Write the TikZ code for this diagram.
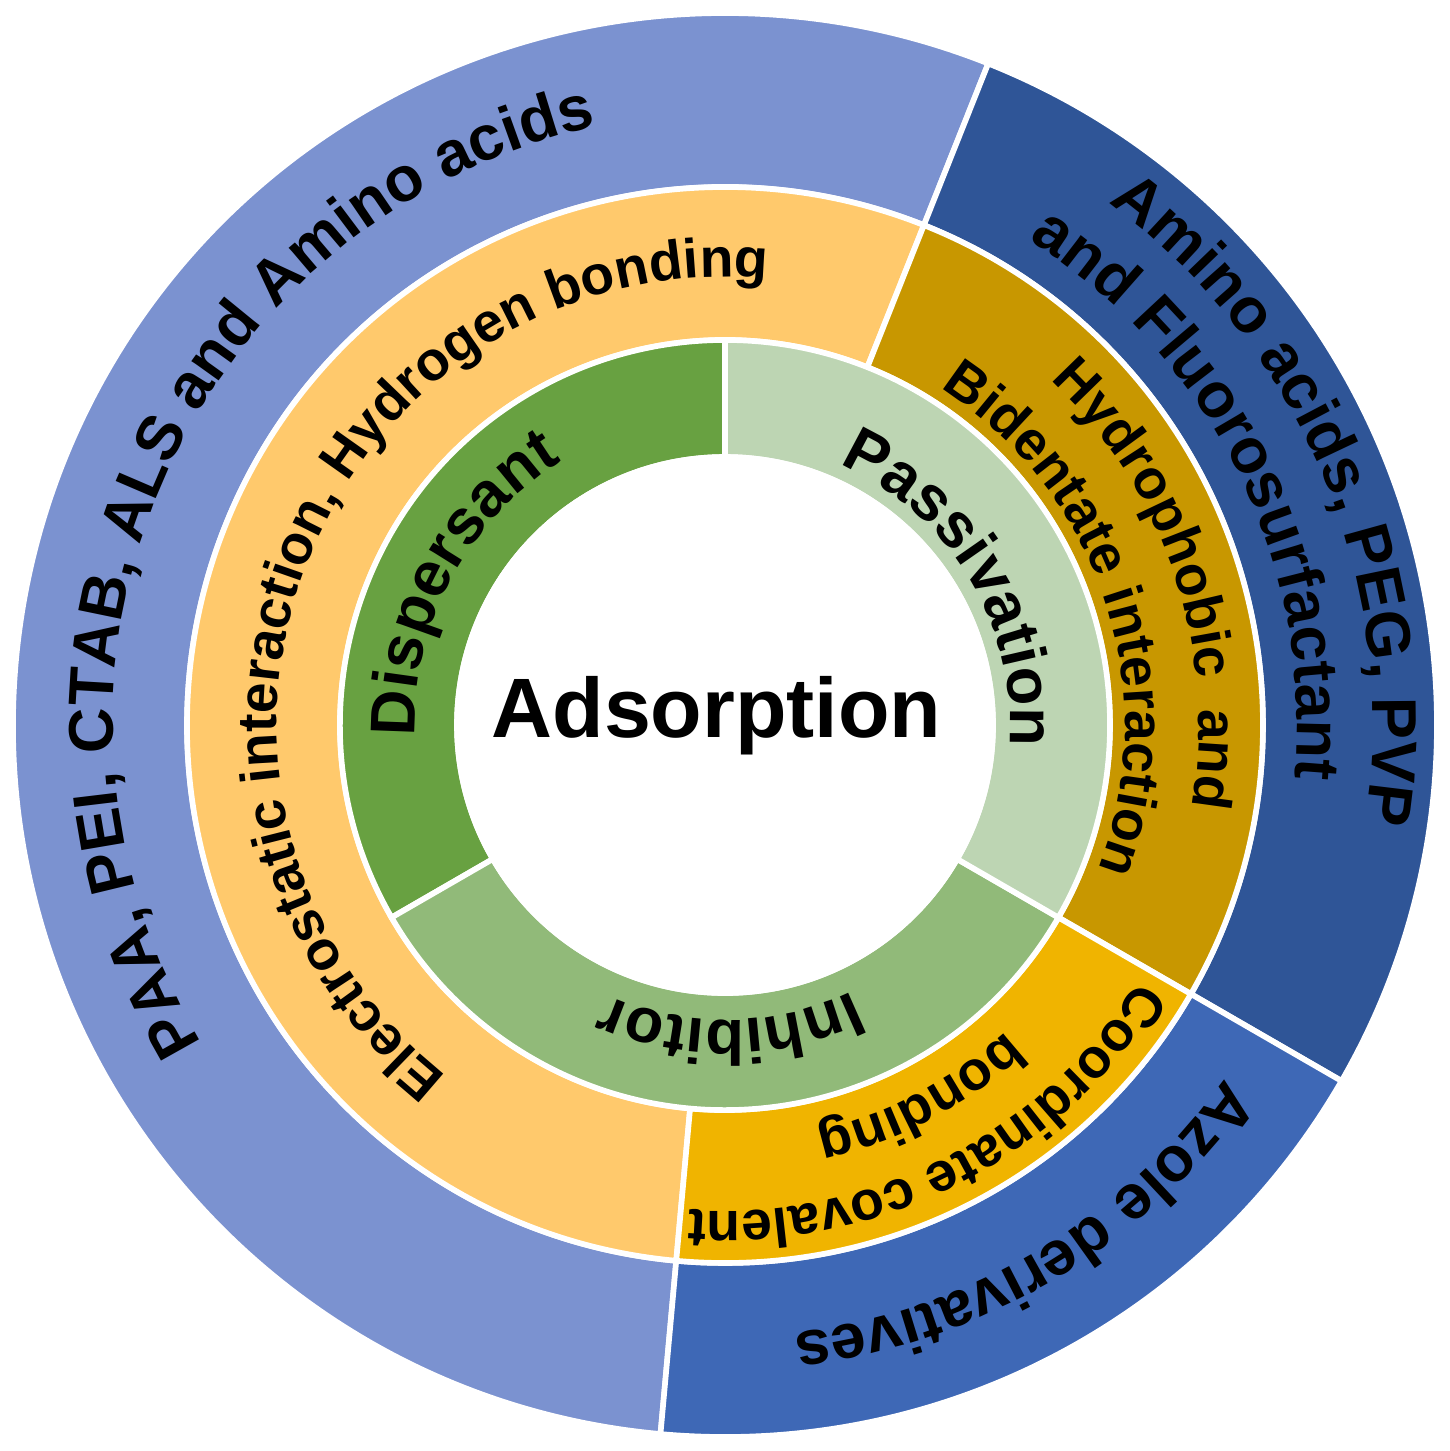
\documentclass[tikz,border=0pt]{standalone}
\usepackage{fontspec}
\setmainfont{Liberation Sans}
\usetikzlibrary{decorations.text}

\definecolor{paablue}{HTML}{7B92D0}
\definecolor{pegblue}{HTML}{2F5597}
\definecolor{azoleblue}{HTML}{3E68B6}
\definecolor{electroorange}{HTML}{FFC96C}
\definecolor{hydrogold}{HTML}{C89700}
\definecolor{coordgold}{HTML}{F0B400}
\definecolor{dispgreen}{HTML}{68A141}
\definecolor{passgreen}{HTML}{BDD5B3}
\definecolor{inhibgreen}{HTML}{91BA79}

\newcommand{\outerfont}{\bfseries\fontsize{18}{20}\selectfont}
\newcommand{\midfont}{\bfseries\fontsize{15.7}{18}\selectfont}
\newcommand{\innerfont}{\bfseries\fontsize{18}{20}\selectfont}

\tikzset{
  sector/.style={draw=white, line width=1.6pt},
  ringtext/.style={decorate, decoration={text along path, text align=center, text={#1}}}
}

\begin{document}
\begin{tikzpicture}
\useasboundingbox (-7.25,-7.26) rectangle (7.25,7.25);
% outer ring
\filldraw[sector, fill=paablue] (68.3:5.38) arc[start angle=68.3, end angle=264.8, radius=5.38]
  -- (264.8:7.12) arc[start angle=264.8, end angle=68.3, radius=7.12] -- cycle;
\filldraw[sector, fill=pegblue] (-30:5.38) arc[start angle=-30, end angle=68.3, radius=5.38]
  -- (68.3:7.12) arc[start angle=68.3, end angle=-30, radius=7.12] -- cycle;
\filldraw[sector, fill=azoleblue] (-95.2:5.38) arc[start angle=-95.2, end angle=-30, radius=5.38]
  -- (-30:7.12) arc[start angle=-30, end angle=-95.2, radius=7.12] -- cycle;
% middle ring
\filldraw[sector, fill=electroorange] (68.3:3.85) arc[start angle=68.3, end angle=264.8, radius=3.85]
  -- (264.8:5.38) arc[start angle=264.8, end angle=68.3, radius=5.38] -- cycle;
\filldraw[sector, fill=hydrogold] (-30:3.85) arc[start angle=-30, end angle=68.3, radius=3.85]
  -- (68.3:5.38) arc[start angle=68.3, end angle=-30, radius=5.38] -- cycle;
\filldraw[sector, fill=coordgold] (-95.2:3.85) arc[start angle=-95.2, end angle=-30, radius=3.85]
  -- (-30:5.38) arc[start angle=-30, end angle=-95.2, radius=5.38] -- cycle;
% inner ring
\filldraw[sector, fill=dispgreen] (90:2.68) arc[start angle=90, end angle=210, radius=2.68]
  -- (210:3.85) arc[start angle=210, end angle=90, radius=3.85] -- cycle;
\filldraw[sector, fill=inhibgreen] (210:2.68) arc[start angle=210, end angle=330, radius=2.68]
  -- (330:3.85) arc[start angle=330, end angle=210, radius=3.85] -- cycle;
\filldraw[sector, fill=passgreen] (-30:2.68) arc[start angle=-30, end angle=90, radius=2.68]
  -- (90:3.85) arc[start angle=90, end angle=-30, radius=3.85] -- cycle;
\filldraw[sector, fill=white] (0,0) circle[radius=2.68];

% labels on the outer ring
\path[ringtext={|\outerfont|PAA, PEI, CTAB, ALS and Amino acids}]
  (241.7:6.12) arc[start angle=241.7, end angle=71.7, radius=6.12];
\path[ringtext={|\outerfont|Amino acids, PEG, PVP}]
  (82.5:6.48) arc[start angle=82.5, end angle=-37.5, radius=6.48];
\path[ringtext={|\outerfont|and Fluorosurfactant}]
  (86.3:5.72) arc[start angle=86.3, end angle=-33.7, radius=5.72];
\path[ringtext={|\outerfont|Azole derivatives}]
  (-9.4:6.12) arc[start angle=-9.4, end angle=-109.4, radius=6.12];

% labels on the middle ring
\path[ringtext={|\midfont|Electrostatic interaction, Hydrogen bonding}]
  (243.1:4.48) arc[start angle=243.1, end angle=73.1, radius=4.48];
\path[ringtext={|\midfont|Hydrophobic{\ }{\ }and}]
  (68.4:4.74) arc[start angle=68.4, end angle=-31.6, radius=4.74];
\path[ringtext={|\midfont|Bidentate interaction}]
  (68.1:4.00) arc[start angle=68.1, end angle=-31.9, radius=4.00];
\path[ringtext={|\midfont|Coordinate covalent}]
  (-13:4.86) arc[start angle=-13, end angle=-113, radius=4.86];
\path[ringtext={|\midfont|bonding}]
  (-12.4:4.16) arc[start angle=-12.4, end angle=-112.4, radius=4.16];

% labels on the inner ring
\path[ringtext={|\innerfont|Dispersant}]
  (201.9:3.10) arc[start angle=201.9, end angle=101.9, radius=3.10];
\path[ringtext={|\innerfont|Passivation}]
  (81:2.85) arc[start angle=81, end angle=-19, radius=2.85];
\path[ringtext={|\innerfont|Inhibitor}]
  (-39:2.95) arc[start angle=-39, end angle=-139, radius=2.95];

\node[anchor=base, font=\bfseries\fontsize{24}{28}\selectfont] (adsorption) at (-0.085,-0.12) {Adsorption};
\end{tikzpicture}
\end{document}
